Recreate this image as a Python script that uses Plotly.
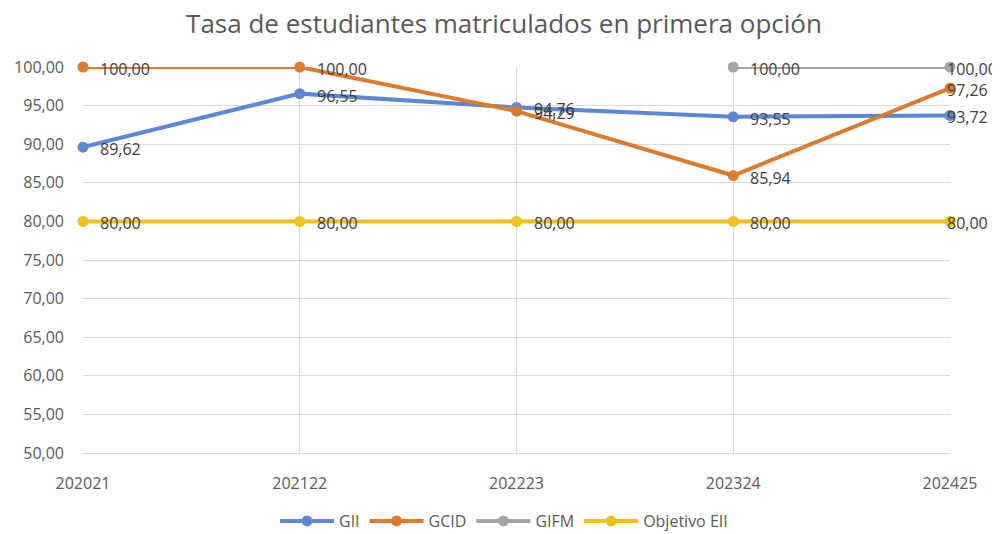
import plotly.graph_objects as go

categories = ["202021", "202122", "202223", "202324", "202425"]
gii = [89.62, 96.55, 94.76, 93.55, 93.72]
gcid = [100.00, 100.00, 94.29, 85.94, 97.26]
gifm = [None, None, None, 100.00, 100.00]
objetivo = [80.00, 80.00, 80.00, 80.00, 80.00]
y_ticks = [50, 55, 60, 65, 70, 75, 80, 85, 90, 95, 100]

def fmt(v):
    return f"{v:.2f}".replace(".", ",")

series = [
    ("GII", gii, "#5B87D6"),
    ("GCID", gcid, "#DF7A2C"),
    ("GIFM", gifm, "#A5A5A5"),
    ("Objetivo EII", objetivo, "#F2C01B"),
]

FONT = "Open Sans, sans-serif"
W, H = 992, 526

fig = go.Figure()
for name, vals, color in series:
    fig.add_trace(go.Scatter(
        x=categories, y=vals, name=name, mode="lines+markers",
        line=dict(color=color, width=4),
        marker=dict(color=color, size=11),
        cliponaxis=False,
    ))
    for i, v in enumerate(vals):
        if v is None:
            continue
        last = i == len(categories) - 1
        fig.add_annotation(
            x=i, y=v, xref="x", yref="y", text=fmt(v), showarrow=False,
            xanchor="left", yanchor="middle",
            xshift=-5 if last else 15, yshift=-2,
            font=dict(family=FONT, size=16, color="#404040"),
        )

fig.update_layout(
    width=W, height=H,
    paper_bgcolor="white", plot_bgcolor="white",
    margin=dict(l=75, r=50, t=59, b=81),
    title=dict(text="Tasa de estudiantes matriculados en primera opción",
               x=0.5, xanchor="center", xref="container",
               y=1 - 16 / H, yanchor="middle",
               font=dict(family=FONT, size=26, color="#595959")),
    font=dict(family=FONT, color="#595959"),
    showlegend=True,
    legend=dict(orientation="h", xref="container", x=0.5, xanchor="center",
                yref="container", y=1 - 513 / H, yanchor="middle",
                itemwidth=54, font=dict(size=16, color="#595959")),
    xaxis=dict(type="category", range=[0, 4], showgrid=True, gridcolor="#D9D9D9",
               gridwidth=1, showline=True, linecolor="#D9D9D9", ticks="",
               ticklabelstandoff=16, automargin=False,
               tickfont=dict(family=FONT, size=16, color="#595959"), zeroline=False),
    yaxis=dict(range=[50, 100], tickvals=y_ticks,
               ticktext=[fmt(v) for v in y_ticks],
               showgrid=True, gridcolor="#D9D9D9", gridwidth=1, zeroline=False,
               showline=False, ticks="", ticklabelstandoff=18, automargin=False,
               tickfont=dict(family=FONT, size=16, color="#595959")),
)

fig.write_html("out.html")
